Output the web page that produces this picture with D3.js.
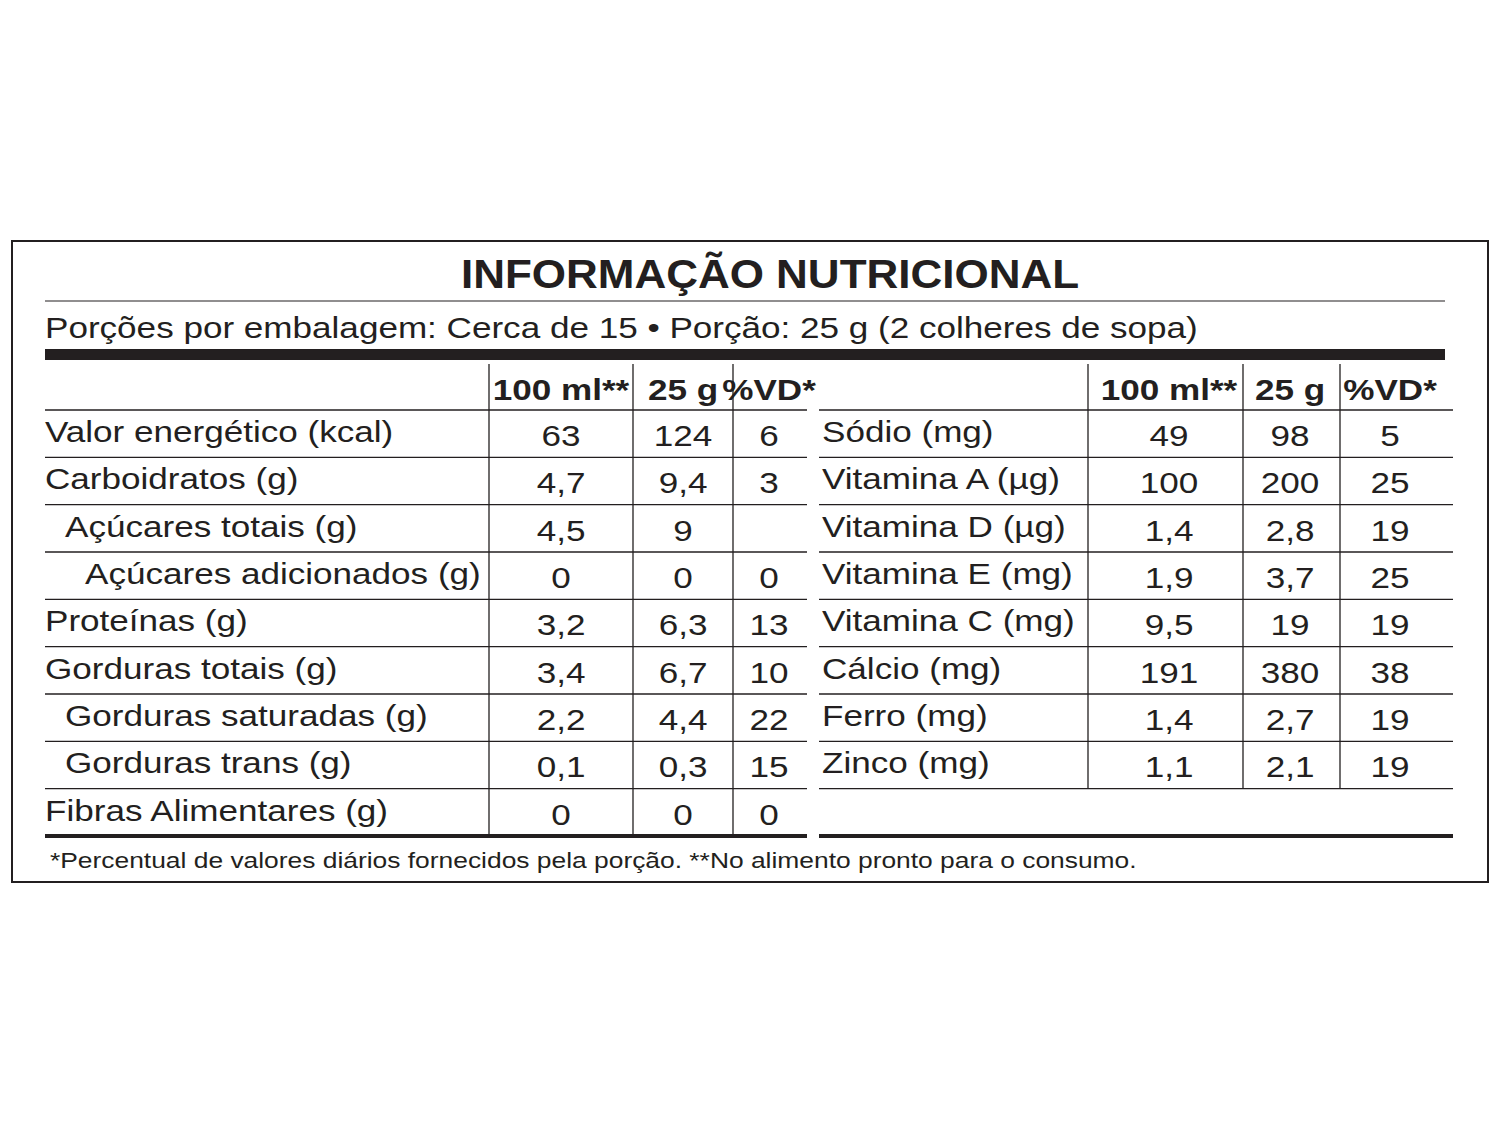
<!DOCTYPE html><html><head><meta charset="utf-8"><script src="https://cdn.jsdelivr.net/npm/d3@7"></script>
<style>body{margin:0;background:#fff}text{font-family:"Liberation Sans",Arial,sans-serif;fill:#231f20}</style></head><body><script>
const title="INFORMAÇÃO NUTRICIONAL";
const subtitle="Porções por embalagem: Cerca de 15 • Porção: 25 g (2 colheres de sopa)";
const headers=["100 ml**","25 g","%VD*"];
const leftLabels=["Valor energético (kcal)","Carboidratos (g)","Açúcares totais (g)","Açúcares adicionados (g)","Proteínas (g)","Gorduras totais (g)","Gorduras saturadas (g)","Gorduras trans (g)","Fibras Alimentares (g)"];
const leftIndent=[0,0,1,2,0,0,1,1,0];
const left100=["63","4,7","4,5","0","3,2","3,4","2,2","0,1","0"];
const left25=["124","9,4","9","0","6,3","6,7","4,4","0,3","0"];
const leftVD=["6","3","","0","13","10","22","15","0"];
const rightLabels=["Sódio (mg)","Vitamina A (µg)","Vitamina D (µg)","Vitamina E (mg)","Vitamina C (mg)","Cálcio (mg)","Ferro (mg)","Zinco (mg)"];
const right100=["49","100","1,4","1,9","9,5","191","1,4","1,1"];
const right25=["98","200","2,8","3,7","19","380","2,7","2,1"];
const rightVD=["5","25","19","25","19","38","19","19"];
const footer="*Percentual de valores diários fornecidos pela porção. **No alimento pronto para o consumo.";

const svg=d3.select("body").append("svg").attr("width",1500).attr("height",1125);
const ink="#231f20";
function txt(x,y,s,size,sx,anchor,bold){
  return svg.append("text").attr("transform",`translate(${x},${y}) scale(${sx},1)`).attr("text-anchor",anchor||"start")
   .attr("font-size",size).attr("font-weight",bold?"bold":"normal").text(s);
}
svg.append("rect").attr("x",12).attr("y",241).attr("width",1476).attr("height",641).attr("fill","none").attr("stroke",ink).attr("stroke-width",2);
txt(770,288,title,40,1.1,"middle",true);
svg.append("line").attr("x1",45).attr("x2",1445).attr("y1",301).attr("y2",301).attr("stroke",ink).attr("stroke-width",1.2);
txt(45,338,subtitle,30,1.17);
svg.append("rect").attr("x",45).attr("y",349).attr("width",1400).attr("height",11).attr("fill",ink);

const y=d3.scaleLinear().domain([0,9]).range([410,836]);
const hdrTop=364;
function table(x0,x1,cols,labels,indent,vals,nRows){
  cols.forEach((c,i)=>txt(c.c,400,headers[i],30,1.17,"middle",true));
  cols.forEach(c=>svg.append("line").attr("x1",c.l).attr("x2",c.l).attr("y1",hdrTop).attr("y2",y(nRows)).attr("stroke",ink).attr("stroke-width",1.3));
  for(let r=0;r<9;r++) svg.append("line").attr("x1",x0).attr("x2",x1).attr("y1",y(r)).attr("y2",y(r)).attr("stroke",ink).attr("stroke-width",1.3);
  svg.append("rect").attr("x",x0).attr("y",y(9)-2).attr("width",x1-x0).attr("height",4).attr("fill",ink);
  labels.forEach((l,r)=>txt(x0+(indent?indent[r]*20:0)+(x0>500?3:0),y(r)+32,l,30,1.17));
  vals.forEach((arr,i)=>arr.forEach((v,r)=>txt(cols[i].c,y(r)+36,v,30,1.17,"middle")));
}
table(45,807,[{l:489,c:561},{l:633,c:683},{l:733,c:769}],leftLabels,leftIndent,[left100,left25,leftVD],9);
table(819,1453,[{l:1088,c:1169},{l:1243,c:1290},{l:1340,c:1390}],rightLabels,null,[right100,right25,rightVD],8);
txt(50,868,footer,22,1.2);
</script></body></html>
